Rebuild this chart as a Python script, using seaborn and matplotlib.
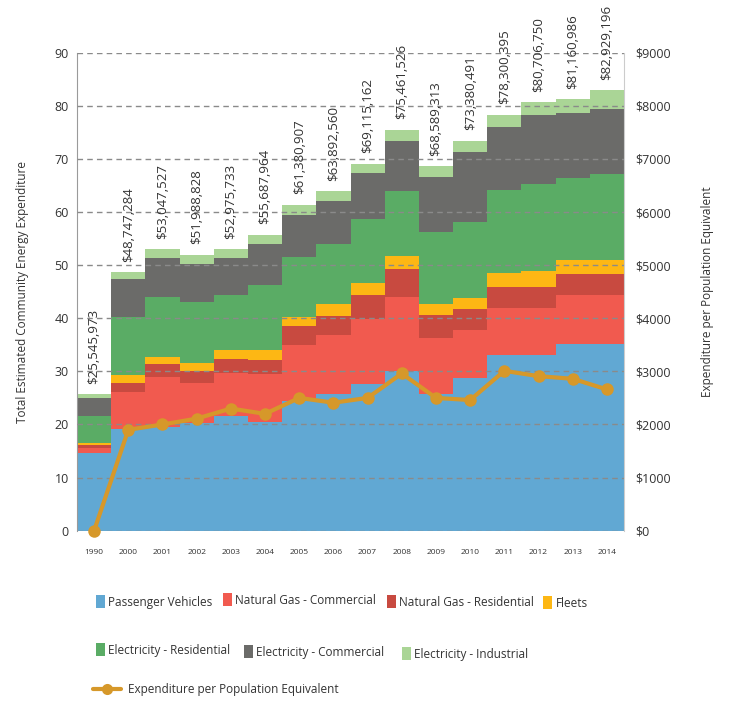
import numpy as np
import pandas as pd
import seaborn as sns
import matplotlib.pyplot as plt
from matplotlib.patches import Patch
from matplotlib.lines import Line2D

# ---------------- data (millions $) ----------------
years = ["1990", "2000", "2001", "2002", "2003", "2004", "2005", "2006",
         "2007", "2008", "2009", "2010", "2011", "2012", "2013", "2014"]
passenger_vehicles = [14.6, 19.1, 19.5, 20.2, 21.6, 20.5, 24.4, 25.7, 27.6, 30.1, 25.8, 28.8, 33.1, 33.1, 35.2, 35.2]
ng_commercial = [1.0, 7.0, 9.4, 7.6, 8.1, 9.0, 10.6, 11.1, 12.3, 13.9, 10.5, 9.0, 8.8, 8.8, 9.2, 9.2]
ng_residential = [0.6, 1.7, 2.5, 2.3, 2.6, 2.6, 3.5, 3.6, 4.5, 5.3, 4.3, 3.9, 4.0, 4.0, 3.9, 3.9]
fleets = [0.3, 1.6, 1.3, 1.5, 1.7, 1.9, 1.7, 2.3, 2.2, 2.4, 2.1, 2.1, 2.6, 3.0, 2.7, 2.7]
elec_residential = [5.1, 10.8, 11.3, 11.5, 10.4, 12.3, 11.3, 11.3, 12.0, 12.3, 13.6, 14.3, 15.6, 16.4, 15.4, 16.2]
elec_commercial = [3.4, 7.1, 7.3, 7.2, 6.9, 7.6, 8.0, 8.1, 8.8, 9.4, 10.3, 13.2, 12.0, 13.0, 12.3, 12.2]
elec_industrial = [0.7, 1.4, 1.7, 1.7, 1.7, 1.8, 1.9, 1.8, 1.7, 2.1, 2.0, 2.1, 2.2, 2.4, 2.5, 3.5]
total_labels = ["$25,545,973", "$48,747,284", "$53,047,527", "$51,988,828", "$52,975,733",
                "$55,687,964", "$61,380,907", "$63,892,560", "$69,115,162", "$75,461,526",
                "$68,589,313", "$73,380,491", "$78,300,395", "$80,706,750", "$81,160,986",
                "$82,929,196"]
per_population = [0, 1900, 2000, 2110, 2300, 2200, 2500, 2410, 2500, 2960, 2500, 2460, 3010, 2910, 2860, 2660]

series_names = ["Passenger Vehicles", "Natural Gas - Commercial", "Natural Gas - Residential", "Fleets",
                "Electricity - Residential", "Electricity - Commercial", "Electricity - Industrial"]
series_vals = [passenger_vehicles, ng_commercial, ng_residential, fleets,
               elec_residential, elec_commercial, elec_industrial]
colors = ["#61a8d3", "#f15a4f", "#c84a40", "#fdb714", "#5aac65", "#6b6b69", "#aad596"]
line_color = "#d6982a"

# ---------------- style ----------------
sns.set_style("white")
plt.rcParams['font.family'] = ['Open Sans', 'DejaVu Sans']
text_color = "#333333"

fig = plt.figure(figsize=(7.31, 7.02), dpi=100)
ax = fig.add_axes([77 / 731, 1 - 530.7 / 702, (624 - 77) / 731, (530.7 - 52.7) / 702])

df = pd.DataFrame(dict(zip(series_names, series_vals)), index=years)
cum = df.cumsum(axis=1)

# stacked bars: draw cumulative sums from top series down
for name, c in reversed(list(zip(series_names, colors))):
    sns.barplot(x=years, y=cum[name].values, color=c, saturation=1, width=1,
                linewidth=0, errorbar=None, ax=ax)

tops = cum[series_names[-1]].values
for i, lab in enumerate(total_labels):
    ax.annotate(lab, (i, tops[i]), xytext=(0, 7.5), textcoords="offset points",
                rotation=90, ha="center", va="bottom", fontsize=9.5, color=text_color)

ax.set_xlim(-0.5, len(years) - 0.5)
ax.set_ylim(0, 90)
ax.set_yticks(range(0, 91, 10))
ax.set_axisbelow(False)
ax.yaxis.grid(True, linestyle=(0, (4, 3)), color="#8a8a8a", linewidth=1)
ax.xaxis.grid(False)
ax.tick_params(axis="y", length=0, pad=6, labelsize=9, labelcolor=text_color)
ax.tick_params(axis="x", length=0, pad=13, labelsize=6, labelcolor=text_color)
ax.set_xlabel("")
ax.set_ylabel("Total Estimated Community Energy Expenditure", fontsize=8.5, color=text_color, labelpad=18)
for s in ["top", "bottom", "right"]:
    ax.spines[s].set_visible(False)
ax.spines["left"].set_color("#9a9a9a")

# per population line on secondary axis
ax2 = ax.twinx()
sns.lineplot(x=np.arange(len(years)), y=per_population, ax=ax2, color=line_color,
             marker="o", markersize=9, linewidth=3, markeredgewidth=0, clip_on=False)
ax2.set_ylim(0, 9000)
ax2.set_xlim(-0.5, len(years) - 0.5)
ax2.set_yticks(range(0, 9001, 1000))
ax2.set_yticklabels([f"${v}" for v in range(0, 9001, 1000)])
ax2.tick_params(axis="y", length=0, pad=8, labelsize=9, labelcolor=text_color)
ax2.set_ylabel("Expenditure per Population Equivalent", fontsize=8.5, color=text_color, labelpad=22)
ax2.grid(False)
for s in ["top", "bottom", "left"]:
    ax2.spines[s].set_visible(False)
ax2.spines["right"].set_color("#cccccc")

# legend, one entry at a time to follow the original placement
legend_items = [
    (0, 96, 602), (1, 223, 600), (2, 387, 602), (3, 543, 603),
    (4, 96, 650), (5, 244, 652), (6, 402, 654),
]
for idx, px, py in legend_items:
    h = Patch(facecolor=colors[idx], edgecolor="none")
    fig.legend([h], [series_names[idx]], loc="center left", bbox_to_anchor=(px / 731, 1 - py / 702),
               frameon=False, fontsize=8.5, handlelength=0.75, handleheight=1.2, handletextpad=0.3,
               borderpad=0, borderaxespad=0, labelcolor=text_color)
lh = Line2D([0], [0], color=line_color, linewidth=3, marker="o", markersize=8, markeredgewidth=0)
fig.legend([lh], ["Expenditure per Population Equivalent"], loc="center left",
           bbox_to_anchor=(93 / 731, 1 - 690 / 702), frameon=False, fontsize=8.5,
           handlelength=2.4, handletextpad=0.6, borderpad=0, borderaxespad=0, labelcolor=text_color)

fig.savefig("out.png", dpi=100)
